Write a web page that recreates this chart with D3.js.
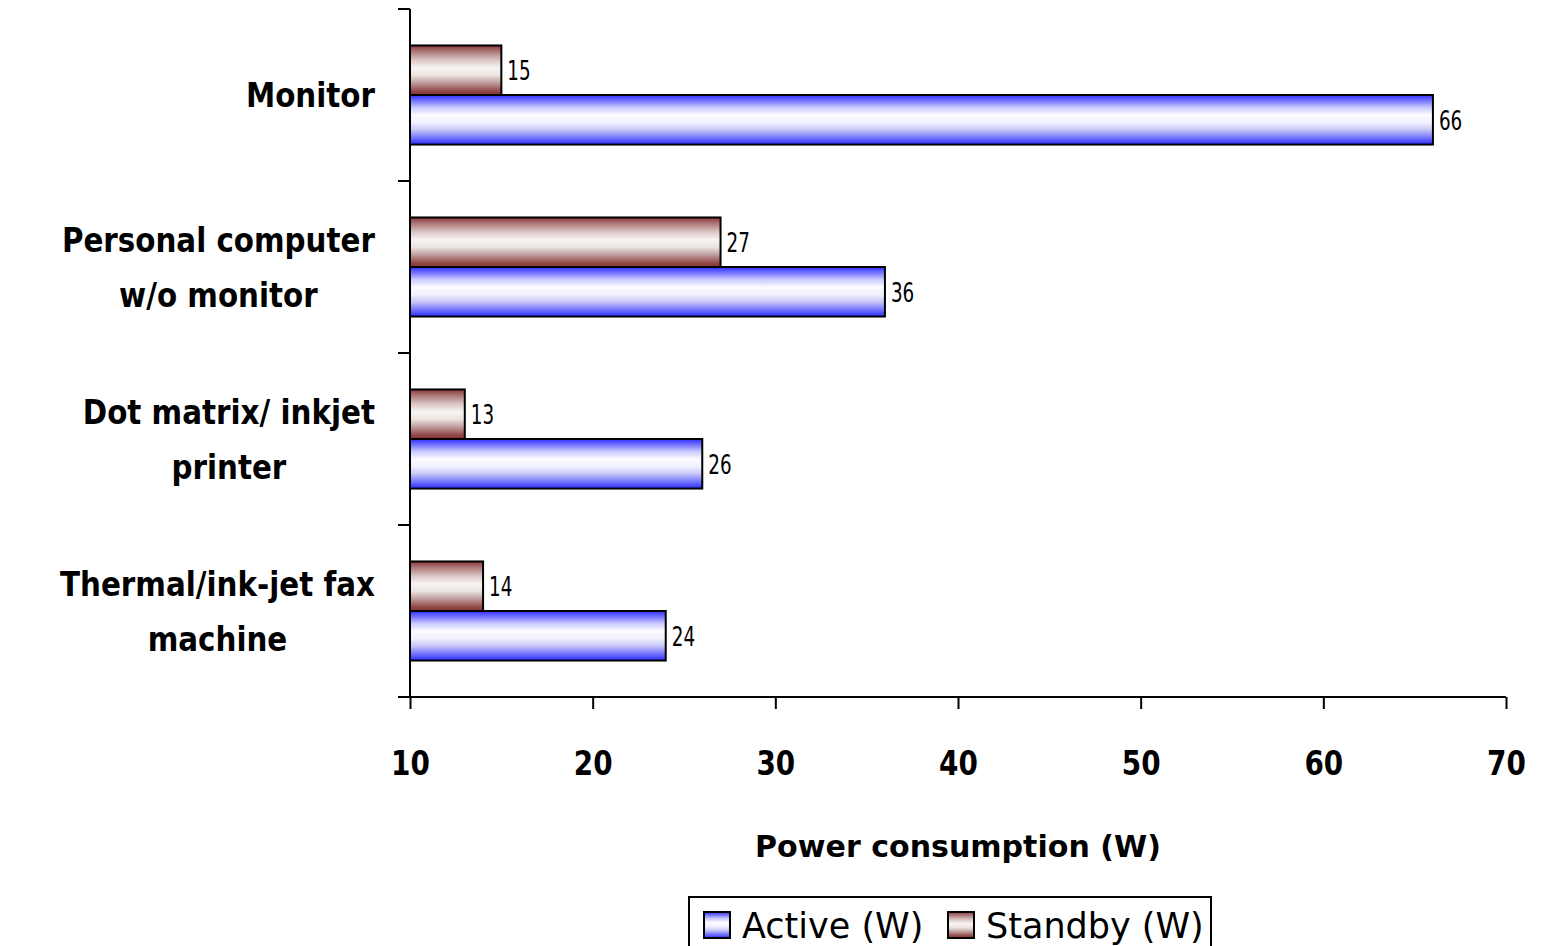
<!DOCTYPE html>
<html>
<head>
<meta charset="utf-8">
<script src="https://cdn.jsdelivr.net/npm/d3@7"></script>
<style>
  html, body { margin: 0; padding: 0; background: #fff; }
  svg { display: block; }
</style>
</head>
<body>
<svg id="chart" width="1542" height="946"></svg>
<script>
// Office equipment power draw, active vs. standby
const categories = [
  ["Monitor"],
  ["Personal computer", "w/o monitor"],
  ["Dot matrix/ inkjet", "printer"],
  ["Thermal/ink-jet fax", "machine"]
];
const activeW  = [66, 36, 26, 24];
const standbyW = [15, 27, 13, 14];
const xTicks = [10, 20, 30, 40, 50, 60, 70];
const seriesNames = ["Active (W)", "Standby (W)"];
const xTitle = "Power consumption (W)";

const svg = d3.select("#chart");
const plot = { left: 410, right: 1506, top: 9, bottom: 697 };

const keys = categories.map(c => c.join(" "));
const x = d3.scaleLinear().domain([10, 70]).range([plot.left, plot.right]);
const y = d3.scaleBand().domain(keys).range([plot.top, plot.bottom])
  .paddingInner(0.424).paddingOuter(0.212);
const sub = d3.scaleBand().domain(["standby", "active"]).range([0, y.bandwidth()]);

// Striped metallic fills
const defs = svg.append("defs");
function grad(id, stops) {
  const g = defs.append("linearGradient").attr("id", id)
    .attr("x1", 0).attr("y1", 0).attr("x2", 0).attr("y2", 1);
  stops.forEach(([o, c]) => g.append("stop").attr("offset", o).attr("stop-color", c));
}
grad("gActive", [[0, "#2f2fff"], [0.1, "#6a6aff"], [0.25, "#c8c8ff"], [0.4, "#fafaff"],
  [0.55, "#f2f2ff"], [0.7, "#c8c8f6"], [0.85, "#7a7aff"], [1, "#2c2cff"]]);
grad("gStandby", [[0, "#8a3434"], [0.12, "#ac7878"], [0.3, "#dcc8c8"], [0.45, "#f7f4f2"],
  [0.6, "#ece4e0"], [0.75, "#c0a0a0"], [0.9, "#985050"], [1, "#862e2e"]]);

const rows = keys.map((k, i) => ({ key: k, lines: categories[i], active: activeW[i], standby: standbyW[i] }));

const groups = svg.append("g").selectAll("g").data(rows).join("g")
  .attr("transform", d => `translate(0,${y(d.key)})`);

["standby", "active"].forEach(s => {
  groups.append("rect")
    .attr("x", x(10))
    .attr("y", sub(s))
    .attr("width", d => x(d[s]) - x(10))
    .attr("height", sub.bandwidth())
    .attr("fill", s === "active" ? "url(#gActive)" : "url(#gStandby)")
    .attr("stroke", "#000").attr("stroke-width", 2);
  groups.append("text")
    .attr("transform", d => `translate(${x(d[s]) + 6},${sub(s) + sub.bandwidth() / 2 + 10}) scale(0.68,1)`)
    .attr("font-family", "DejaVu Sans").attr("font-size", 27).attr("fill", "#000")
    .text(d => d[s]);
});

// Axes
const xAxis = svg.append("g").attr("transform", `translate(0,${plot.bottom})`)
  .call(d3.axisBottom(x).tickValues(xTicks).tickSize(12).tickSizeOuter(0).tickFormat(d3.format("d")));
xAxis.select(".domain").attr("stroke", "#000").attr("stroke-width", 2)
  .attr("d", `M${plot.left - 12},0H${plot.right}`);
xAxis.selectAll(".tick line").attr("stroke", "#000").attr("stroke-width", 2);
xAxis.selectAll(".tick text")
  .attr("y", 0).attr("dy", 0)
  .attr("transform", "translate(0,78) scale(0.82,1)")
  .attr("font-family", "DejaVu Sans").attr("font-weight", "bold").attr("font-size", 34).attr("fill", "#000");

const yAxis = svg.append("g").attr("transform", `translate(${plot.left},0)`);
yAxis.append("line").attr("x1", 0).attr("x2", 0).attr("y1", plot.top).attr("y2", plot.bottom)
  .attr("stroke", "#000").attr("stroke-width", 2);
const bounds = [plot.top].concat(keys.map(k => y(k) + y.bandwidth() + y.step() * y.paddingInner() / 2));
yAxis.selectAll(".ytick").data(bounds.slice(0, bounds.length - 1)).join("line")
  .attr("class", "ytick").attr("x1", -12).attr("x2", 0)
  .attr("y1", d => d).attr("y2", d => d).attr("stroke", "#000").attr("stroke-width", 2);

// Category labels: centred lines, block right-aligned to the axis
const labelRight = 375, catScale = 0.89, lineGap = 55;
rows.forEach(d => {
  const cy = y(d.key) + y.bandwidth() / 2;
  const g = svg.append("g");
  const texts = d.lines.map((t, j) => g.append("text")
    .attr("font-family", "DejaVu Sans").attr("font-weight", "bold").attr("font-size", 33)
    .attr("text-anchor", "middle").attr("fill", "#000").text(t));
  const widths = texts.map(t => t.node().getComputedTextLength() * catScale);
  const maxW = d3.max(widths);
  const n = d.lines.length;
  texts.forEach((t, j) => {
    const ly = cy + (j - (n - 1) / 2) * lineGap + 12;
    t.attr("transform", `translate(${labelRight - maxW / 2},${ly}) scale(${catScale},1)`);
  });
});

// Axis title
svg.append("text")
  .attr("transform", `translate(${(plot.left + plot.right) / 2},857) scale(0.97,1)`)
  .attr("text-anchor", "middle")
  .attr("font-family", "DejaVu Sans").attr("font-weight", "bold").attr("font-size", 31)
  .attr("fill", "#000").text(xTitle);

// Legend
const legend = svg.append("g");
legend.append("rect").attr("x", 689).attr("y", 897).attr("width", 522).attr("height", 70)
  .attr("fill", "#fff").attr("stroke", "#000").attr("stroke-width", 2);
const legItems = [
  { name: seriesNames[0], fill: "url(#gActive)", sx: 704 },
  { name: seriesNames[1], fill: "url(#gStandby)", sx: 948 }
];
legItems.forEach(it => {
  legend.append("rect").attr("x", it.sx).attr("y", 912).attr("width", 26).attr("height", 26)
    .attr("fill", it.fill).attr("stroke", "#000").attr("stroke-width", 2);
  legend.append("text").attr("x", it.sx + 38).attr("y", 938)
    .attr("font-family", "DejaVu Sans").attr("font-size", 35).attr("fill", "#000").text(it.name);
});
</script>
</body>
</html>
